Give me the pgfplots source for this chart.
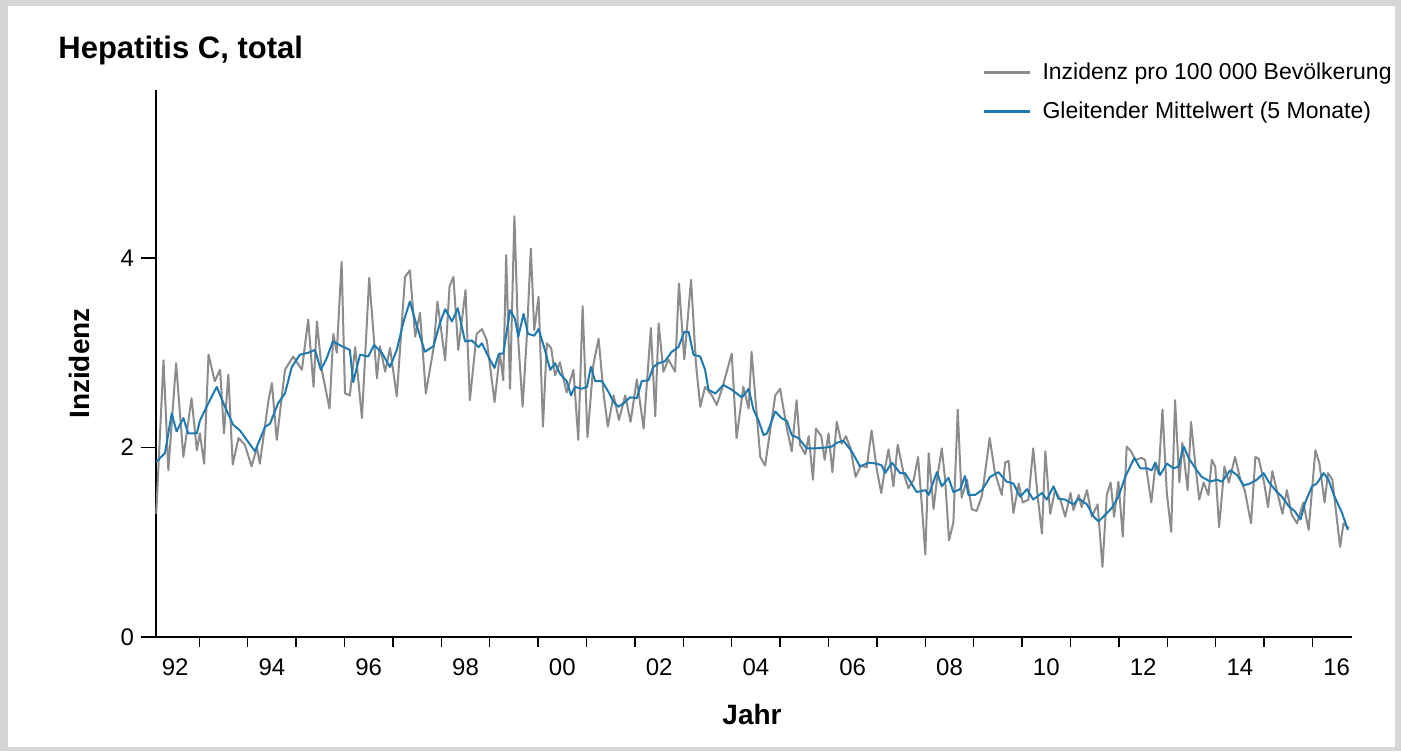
\documentclass[border=0pt]{standalone}
\usepackage{fontspec}
\setmainfont{Liberation Sans}
\usepackage{pgfplots}
\pgfplotsset{compat=1.18}
\usepackage{pgfplotstable}
\definecolor{rawgray}{HTML}{8C8C8C}
\definecolor{maline}{HTML}{1F7AB0}
\definecolor{framegray}{HTML}{D6D6D6}

% monthly incidence per 100 000
\pgfplotstableread{
x y
1992.11 1.30
1992.26 2.92
1992.36 1.76
1992.52 2.89
1992.67 1.90
1992.84 2.52
1992.95 1.97
1993.01 2.15
1993.10 1.83
1993.19 2.98
1993.32 2.70
1993.43 2.82
1993.51 2.15
1993.60 2.77
1993.69 1.82
1993.81 2.10
1993.94 2.03
1994.08 1.80
1994.19 2.00
1994.25 1.83
1994.43 2.50
1994.50 2.68
1994.60 2.08
1994.77 2.82
1994.94 2.96
1995.12 2.82
1995.25 3.35
1995.36 2.64
1995.43 3.33
1995.53 2.82
1995.69 2.41
1995.77 3.20
1995.84 3.00
1995.94 3.96
1996.01 2.57
1996.11 2.55
1996.22 3.06
1996.36 2.31
1996.51 3.79
1996.67 2.73
1996.73 3.07
1996.84 2.80
1996.94 3.05
1997.08 2.54
1997.25 3.80
1997.35 3.87
1997.46 3.17
1997.56 3.42
1997.68 2.57
1997.84 3.05
1997.92 3.54
1998.08 2.92
1998.17 3.70
1998.25 3.80
1998.35 3.03
1998.50 3.66
1998.59 2.50
1998.73 3.20
1998.84 3.25
1998.94 3.13
1999.10 2.48
1999.21 2.99
1999.28 2.71
1999.34 4.03
1999.42 2.62
1999.51 4.44
1999.59 3.13
1999.68 2.43
1999.77 3.20
1999.85 4.10
1999.92 3.24
2000.01 3.59
2000.10 2.22
2000.18 3.10
2000.27 3.05
2000.35 2.76
2000.45 2.90
2000.59 2.58
2000.73 2.82
2000.83 2.08
2000.92 3.49
2001.02 2.11
2001.14 2.87
2001.25 3.15
2001.35 2.58
2001.44 2.22
2001.56 2.55
2001.67 2.29
2001.80 2.55
2001.91 2.27
2002.04 2.72
2002.18 2.20
2002.33 3.26
2002.42 2.33
2002.49 3.31
2002.59 2.80
2002.69 2.93
2002.83 2.80
2002.91 3.73
2003.02 2.93
2003.16 3.77
2003.26 2.89
2003.35 2.43
2003.45 2.64
2003.59 2.55
2003.69 2.45
2003.80 2.62
2004.00 2.99
2004.10 2.10
2004.24 2.64
2004.35 2.41
2004.41 3.01
2004.59 1.90
2004.69 1.81
2004.90 2.55
2005.00 2.62
2005.14 2.20
2005.24 1.96
2005.34 2.50
2005.41 2.03
2005.52 1.93
2005.59 2.12
2005.68 1.66
2005.74 2.20
2005.85 2.12
2005.92 1.87
2006.00 2.15
2006.08 1.74
2006.17 2.27
2006.27 2.04
2006.36 2.12
2006.45 2.00
2006.56 1.69
2006.67 1.81
2006.79 1.79
2006.89 2.18
2007.00 1.76
2007.09 1.52
2007.17 1.79
2007.24 1.98
2007.34 1.59
2007.43 2.03
2007.55 1.73
2007.65 1.57
2007.76 1.66
2007.85 1.90
2007.93 1.38
2008.00 0.87
2008.07 1.94
2008.17 1.35
2008.24 1.66
2008.34 1.99
2008.41 1.66
2008.49 1.02
2008.58 1.21
2008.67 2.40
2008.75 1.47
2008.86 1.66
2008.96 1.35
2009.06 1.33
2009.17 1.49
2009.33 2.10
2009.44 1.73
2009.58 1.50
2009.65 1.84
2009.72 1.86
2009.82 1.31
2009.93 1.62
2010.01 1.42
2010.13 1.45
2010.23 1.99
2010.32 1.49
2010.41 1.09
2010.48 1.96
2010.58 1.30
2010.68 1.55
2010.79 1.45
2010.89 1.27
2011.00 1.52
2011.06 1.34
2011.17 1.50
2011.23 1.37
2011.34 1.55
2011.44 1.27
2011.56 1.40
2011.66 0.74
2011.75 1.50
2011.83 1.63
2011.90 1.27
2011.99 1.64
2012.08 1.06
2012.16 2.01
2012.25 1.96
2012.34 1.87
2012.47 1.89
2012.54 1.87
2012.67 1.42
2012.76 1.84
2012.82 1.72
2012.90 2.40
2012.99 1.52
2013.08 1.11
2013.16 2.50
2013.25 1.63
2013.31 2.05
2013.42 1.55
2013.49 2.27
2013.58 1.81
2013.66 1.45
2013.75 1.63
2013.85 1.50
2013.92 1.87
2013.99 1.80
2014.07 1.16
2014.18 1.80
2014.27 1.63
2014.40 1.90
2014.51 1.66
2014.60 1.55
2014.73 1.20
2014.82 1.90
2014.89 1.88
2015.00 1.63
2015.08 1.37
2015.17 1.75
2015.26 1.55
2015.38 1.30
2015.47 1.55
2015.57 1.29
2015.68 1.20
2015.81 1.42
2015.92 1.13
2016.06 1.97
2016.14 1.84
2016.25 1.42
2016.32 1.73
2016.41 1.66
2016.57 0.95
2016.64 1.20
2016.75 1.15
}\rawdata

% 5-month moving average
\pgfplotstableread{
x y
1992.11 1.85
1992.15 1.87
1992.29 1.94
1992.43 2.36
1992.53 2.17
1992.67 2.31
1992.77 2.15
1992.95 2.15
1993.01 2.28
1993.15 2.43
1993.36 2.64
1993.53 2.43
1993.70 2.24
1993.84 2.18
1993.98 2.08
1994.15 1.96
1994.36 2.22
1994.46 2.25
1994.63 2.47
1994.77 2.57
1994.91 2.85
1995.08 2.98
1995.25 3.00
1995.39 3.03
1995.51 2.82
1995.63 2.94
1995.76 3.12
1995.94 3.07
1996.11 3.03
1996.18 2.69
1996.32 2.98
1996.49 2.96
1996.61 3.08
1996.77 3.00
1996.94 2.85
1997.08 3.03
1997.22 3.33
1997.35 3.54
1997.49 3.29
1997.66 3.01
1997.84 3.07
1997.97 3.31
1998.08 3.46
1998.22 3.33
1998.34 3.47
1998.49 3.12
1998.63 3.13
1998.77 3.06
1998.84 3.10
1998.97 2.96
1999.10 2.84
1999.19 2.99
1999.28 2.99
1999.42 3.45
1999.52 3.36
1999.59 3.17
1999.70 3.41
1999.79 3.20
1999.92 3.18
2000.01 3.25
2000.14 3.03
2000.25 2.82
2000.35 2.89
2000.45 2.78
2000.59 2.70
2000.68 2.55
2000.76 2.64
2000.90 2.62
2001.01 2.64
2001.09 2.85
2001.18 2.70
2001.32 2.70
2001.45 2.59
2001.56 2.48
2001.66 2.43
2001.80 2.48
2001.90 2.53
2002.04 2.52
2002.14 2.70
2002.28 2.71
2002.38 2.85
2002.49 2.89
2002.62 2.91
2002.76 3.01
2002.90 3.06
2003.02 3.22
2003.11 3.22
2003.21 2.98
2003.35 2.96
2003.45 2.82
2003.52 2.61
2003.66 2.57
2003.83 2.66
2004.00 2.61
2004.21 2.53
2004.28 2.57
2004.35 2.62
2004.45 2.40
2004.55 2.29
2004.66 2.13
2004.73 2.15
2004.90 2.38
2005.03 2.31
2005.14 2.28
2005.24 2.13
2005.38 2.10
2005.55 1.99
2005.72 1.99
2005.93 2.00
2006.07 2.01
2006.17 2.05
2006.31 2.07
2006.48 1.96
2006.65 1.80
2006.83 1.84
2007.00 1.83
2007.10 1.81
2007.17 1.73
2007.31 1.84
2007.48 1.73
2007.58 1.73
2007.69 1.64
2007.82 1.53
2008.00 1.55
2008.07 1.50
2008.24 1.74
2008.34 1.59
2008.48 1.68
2008.58 1.53
2008.72 1.56
2008.82 1.70
2008.89 1.50
2009.03 1.50
2009.17 1.55
2009.34 1.69
2009.51 1.74
2009.68 1.64
2009.82 1.62
2009.96 1.48
2010.10 1.56
2010.23 1.45
2010.41 1.52
2010.51 1.45
2010.65 1.59
2010.75 1.46
2010.89 1.45
2011.06 1.40
2011.17 1.46
2011.34 1.40
2011.48 1.27
2011.58 1.22
2011.72 1.29
2011.85 1.36
2011.99 1.48
2012.13 1.69
2012.32 1.89
2012.44 1.78
2012.58 1.78
2012.68 1.76
2012.75 1.84
2012.85 1.71
2012.99 1.83
2013.13 1.78
2013.23 1.80
2013.34 2.01
2013.44 1.89
2013.58 1.78
2013.71 1.69
2013.89 1.64
2014.02 1.66
2014.13 1.64
2014.30 1.76
2014.44 1.71
2014.58 1.60
2014.71 1.62
2014.85 1.66
2014.99 1.73
2015.09 1.64
2015.23 1.55
2015.37 1.48
2015.51 1.38
2015.63 1.33
2015.75 1.24
2015.85 1.42
2015.99 1.59
2016.09 1.62
2016.23 1.73
2016.33 1.66
2016.44 1.50
2016.61 1.31
2016.73 1.13
}\madata

\begin{document}
\begin{tikzpicture}
% grey frame round the white panel
\fill[framegray] (-78pt,-57pt) rectangle (622.5pt,318.5pt);
\fill[white] (-74pt,-55pt) rectangle (619.5pt,315.5pt);
\begin{axis}[at={(0,0)}, anchor=south west, scale only axis,
  width=597.85pt, height=273.5pt,
  xmin=1992.105, xmax=2016.81, ymin=0, ymax=5.773,
  axis lines*=left, axis line style={black, line width=0.75pt},
  tick align=outside, major tick length=7.5pt, minor tick length=5pt,
  tick style={black, line width=0.75pt},
  major x tick style={draw=none},
  xtick={1992.5,1994.5,1996.5,1998.5,2000.5,2002.5,2004.5,2006.5,2008.5,2010.5,2012.5,2014.5,2016.5},
  xticklabels={92,94,96,98,00,02,04,06,08,10,12,14,16},
  minor xtick={1993,1994,1995,1996,1997,1998,1999,2000,2001,2002,2003,2004,2005,2006,2007,2008,2009,2010,2011,2012,2013,2014,2015,2016},
  ytick={0,2,4}, yticklabels={0,2,4},
  /pgf/number format/assume math mode=true,
  ticklabel style={font=\fontsize{12}{14}\selectfont},
  xlabel={Jahr}, ylabel={Inzidenz},
  label style={font=\bfseries\fontsize{14}{16}\selectfont},
  xlabel style={at={(axis description cs:0.4985,-0.1408)}, anchor=center},
  ylabel style={at={(axis description cs:-0.0636,0.5)}, anchor=center},
  legend style={at={(axis description cs:0.6906,1.0503)}, anchor=north west,
    draw=none, fill=none, font=\fontsize{11.5}{13}\selectfont,
    row sep=9.6pt, column sep=5.8pt, inner sep=0pt, nodes={inner sep=0pt}},
  legend cell align=left,
  legend image code/.code={\draw[#1, line width=1.4pt] (0pt,0pt) -- (23pt,0pt);},
  clip=false]
  \addplot[rawgray, line width=1pt, line join=round] table[x=x, y=y] {\rawdata};
  \addlegendentry{Inzidenz pro 100 000 Bevölkerung}
  \addplot[maline, line width=1pt, line join=round] table[x=x, y=y] {\madata};
  \addlegendentry{Gleitender Mittelwert (5 Monate)}
\end{axis}
\node[anchor=base west, inner sep=0pt, font=\bfseries\fontsize{15.5}{18}\selectfont] at (-49pt,289pt) {Hepatitis C, total};
\end{tikzpicture}
\end{document}
